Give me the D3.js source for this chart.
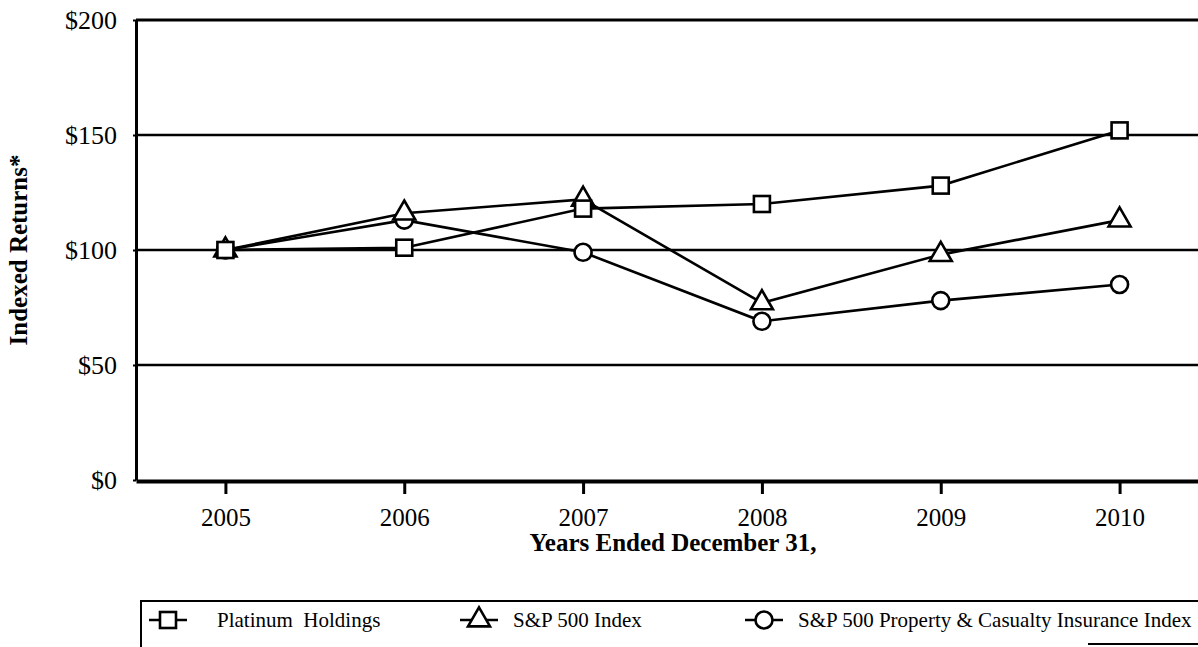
<!DOCTYPE html>
<html>
<head>
<meta charset="utf-8">
<script src="https://cdn.jsdelivr.net/npm/d3@7"></script>
<style>
  body { margin: 0; background: #fff; }
  #vis { width: 1198px; height: 647px; overflow: hidden; }
  text { font-family: "Liberation Serif", "Times New Roman", serif; fill: #000; }
</style>
</head>
<body>
<div id="vis"></div>
<script>
var years = ['2005', '2006', '2007', '2008', '2009', '2010'];
var platinum = [100, 101, 118, 120, 128, 152];
var sp500 = [100, 116, 122, 77, 98, 113];
var spPC = [100, 113, 99, 69, 78, 85];
var yTicks = [0, 50, 100, 150, 200];

var seriesNames = ['Platinum  Holdings', 'S&P 500 Index', 'S&P 500 Property & Casualty Insurance Index'];
var seriesShapes = ['square', 'triangle', 'circle'];

var margin = { top: 20, left: 136 };
var width = 1073;   // plot runs past the right edge of the page, as in the scan
var height = 460;

var svg = d3.select('#vis')
    .append('svg')
    .attr('width', 1198)
    .attr('height', 647);

var g = svg.append('g')
    .attr('transform', 'translate(' + margin.left + ',' + margin.top + ')');

var x_scale = d3.scalePoint()
    .domain(years)
    .range([0, width])
    .padding(0.5);

var y_scale = d3.scaleLinear()
    .domain([0, 200])
    .range([height, 0]);

// gridlines + top border
g.selectAll('.grid')
    .data(yTicks.filter(function(d) { return d > 0; }))
    .enter()
    .append('line')
    .attr('class', 'grid')
    .attr('x1', 0)
    .attr('x2', width)
    .attr('y1', function(d) { return y_scale(d); })
    .attr('y2', function(d) { return y_scale(d); })
    .attr('stroke', '#000')
    .attr('stroke-width', function(d) { return d === 200 ? 3 : 2.5; });

var y_axis = d3.axisLeft(y_scale)
    .tickValues(yTicks)
    .tickFormat(function(d) { return '$' + d; })
    .tickSize(3)
    .tickSizeOuter(0)
    .tickPadding(16);

var x_axis = d3.axisBottom(x_scale)
    .tickSize(13)
    .tickSizeOuter(0)
    .tickPadding(14);

var yg = g.append('g')
    .attr('class', 'y axis')
    .call(y_axis);
yg.select('.domain').attr('stroke-width', 3);
yg.selectAll('.tick line').attr('stroke-width', 2);
yg.selectAll('.tick text')
    .style('font-size', '26px')
    .attr('dy', '0.34em');

var xg = g.append('g')
    .attr('class', 'x axis')
    .attr('transform', 'translate(0,' + (height + 1) + ')')
    .call(x_axis);
xg.select('.domain').attr('stroke-width', 4);
xg.selectAll('.tick line').attr('stroke-width', 3);
xg.selectAll('.tick text').style('font-size', '25px');

// axis titles
svg.append('text')
    .attr('transform', 'translate(27,250) rotate(-90)')
    .attr('text-anchor', 'middle')
    .style('font-size', '25px')
    .style('font-weight', 'bold')
    .text('Indexed Returns*');

svg.append('text')
    .attr('x', 673)
    .attr('y', 551)
    .attr('text-anchor', 'middle')
    .style('font-size', '25px')
    .style('font-weight', 'bold')
    .text('Years Ended December 31,');

// lines and markers
var allSeries = [platinum, sp500, spPC];
var line = d3.line()
    .x(function(d, i) { return x_scale(years[i]); })
    .y(function(d) { return y_scale(d); });

var tri = d3.symbol().type(d3.symbolTriangle).size(210);

function drawMarker(sel, shape) {
    if (shape === 'square') {
        sel.append('rect')
            .attr('x', -8).attr('y', -8)
            .attr('width', 16).attr('height', 16);
    } else if (shape === 'triangle') {
        sel.append('path').attr('d', tri());
    } else {
        sel.append('circle').attr('r', 8.5);
    }
    sel.selectAll('rect, path, circle')
        .attr('fill', '#fff')
        .attr('stroke', '#000')
        .attr('stroke-width', 2.6);
}

// draw order: circle, triangle, square (square sits on top)
[2, 1, 0].forEach(function(k) {
    g.append('path')
        .datum(allSeries[k])
        .attr('fill', 'none')
        .attr('stroke', '#000')
        .attr('stroke-width', 2.6)
        .attr('d', line);
});
[2, 1, 0].forEach(function(k) {
    g.selectAll('.m' + k)
        .data(allSeries[k])
        .enter()
        .append('g')
        .attr('class', 'm' + k)
        .attr('transform', function(d, i) {
            return 'translate(' + x_scale(years[i]) + ',' + y_scale(d) + ')';
        })
        .each(function() { drawMarker(d3.select(this), seriesShapes[k]); });
});

// legend box
var legend = svg.append('g');
legend.append('path')
    .attr('d', 'M141,647 L141,601 L1198,601')
    .attr('fill', 'none')
    .attr('stroke', '#000')
    .attr('stroke-width', 2);
legend.append('line')
    .attr('x1', 1088).attr('x2', 1198)
    .attr('y1', 644).attr('y2', 644)
    .attr('stroke', '#000')
    .attr('stroke-width', 2);

var legendX = [168, 479, 764];
var legendTextX = [49, 34, 34];
var legendItems = legend.selectAll('.item')
    .data(seriesNames)
    .enter()
    .append('g')
    .attr('class', 'item')
    .attr('transform', function(d, i) { return 'translate(' + legendX[i] + ',620)'; });

legendItems.append('line')
    .attr('x1', -19).attr('x2', 19)
    .attr('stroke', '#000')
    .attr('stroke-width', 2.6);
legendItems.each(function(d, i) {
    var m = d3.select(this).append('g');
    drawMarker(m, seriesShapes[i]);
});
legendItems.append('text')
    .attr('x', function(d, i) { return legendTextX[i]; })
    .attr('y', 7)
    .style('font-size', '21px')
    .style('white-space', 'pre')
    .text(function(d) { return d; });
</script>
</body>
</html>
